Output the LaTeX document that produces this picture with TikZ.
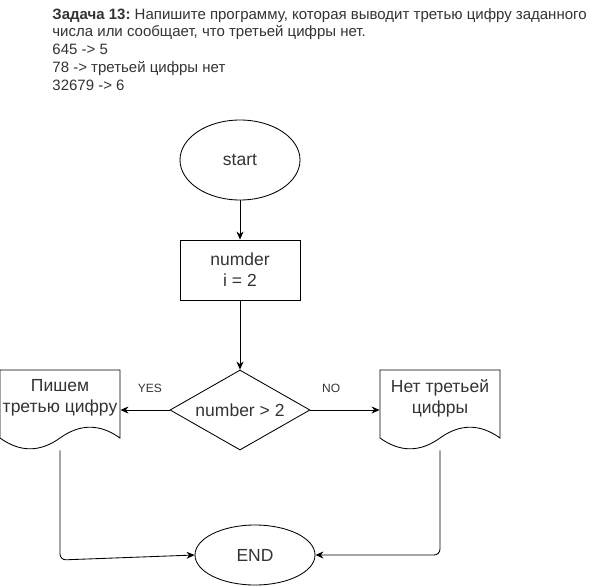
\documentclass[tikz,border=0pt]{standalone}
\usepackage{fontspec}
\setmainfont{Liberation Sans}
\usetikzlibrary{shapes.geometric,arrows.meta}
\definecolor{txt}{HTML}{333333}

\newcommand\docpath[1]{%
  \draw[shift={(#1.center)}] (-60,-40) -- (60,-40) -- (60,28)
    .. controls (40,13.6) and (20,13.6) .. (0,28)
    .. controls (-20,42.4) and (-40,42.4) .. (-60,28) -- cycle;}

\tikzset{
  term/.style={ellipse,draw,minimum width=120,minimum height=80,inner sep=0},
  proc/.style={rectangle,draw,minimum width=120,minimum height=60,inner sep=0,align=center},
  decide/.style={diamond,draw,aspect=1.75,minimum width=140,minimum height=80,inner sep=0},
  doc/.style={rectangle,minimum width=120,minimum height=80,inner sep=0},
  arr/.style={-{Stealth[length=8pt,width=7pt]}},
  lbl/.style={font=\fontsize{12}{14}\selectfont,text=txt}
}

\begin{document}
\begin{tikzpicture}[x=1pt,y=-1pt,line width=0.85pt]
\useasboundingbox (0,0) rectangle (601,586);

\node[anchor=north west,align=left,inner sep=0,text=txt,font=\fontsize{15}{17.7}\selectfont] (task) at (52,8)
  {\textbf{Задача 13:}~Напишите программу, которая выводит третью цифру заданного\\
   числа или сообщает, что третьей цифры нет.\\
   645 -> 5\\
   78 -> третьей цифры нет\\
   32679 -> 6};

\begin{scope}[every node/.style={text=txt,font=\fontsize{17.5}{21}\selectfont}]
  \node[term] (start) at (240,160) {start};
  \node[proc] (num) at (240,270) {numder\\i = 2};
  \node[decide] (check) at (240,410) {number > 2};
  \node[doc] (yes) at (60,410) {};
  \node[doc] (no) at (440,410) {};
  \node[align=center,inner sep=0] (yestext) at (60,398) {Пишем\\третью цифру};
  \node[align=center,inner sep=0] (notext) at (440,398) {Нет третьей\\цифры};
  \node[term,minimum height=60] (stop) at (255,555) {END};
\end{scope}

\docpath{yes}
\docpath{no}

\coordinate (bendl) at (60,560);

\draw[arr] (start) -- (num);
\draw[arr] (num) -- (check);
\draw[arr] (check.west) -- (yes.east) node[lbl,pos=0.4,yshift=22pt] {YES};
\draw[arr] (check.east) -- (no.west) node[lbl,pos=0.3,yshift=22pt] {NO};
\draw[arr,rounded corners=6] (yes.south) -- (bendl) -- (stop.west);
\draw[arr,rounded corners=6] (no.south) |- (stop.east);

\end{tikzpicture}
\end{document}
